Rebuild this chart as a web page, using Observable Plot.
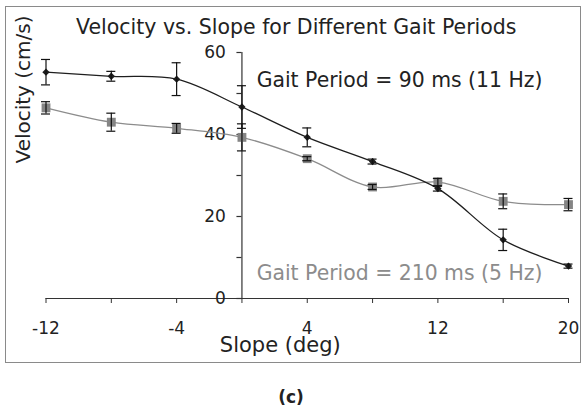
<!DOCTYPE html>
<html><head><meta charset="utf-8">
<script src="https://cdn.jsdelivr.net/npm/d3@7"></script>
<script src="https://cdn.jsdelivr.net/npm/@observablehq/plot@0.6"></script>
<style>
html,body{margin:0;padding:0;background:#fff;}
#wrap{position:relative;width:582px;height:408px;overflow:hidden;font-family:"DejaVu Sans",sans-serif;color:#222;}
#box{position:absolute;left:5px;top:6px;width:576px;height:357px;border:1.5px solid #8a8a8a;box-sizing:border-box;}
#chart{position:absolute;left:0;top:0;}
#cap{position:absolute;left:271px;width:40px;top:387px;text-align:center;font-weight:bold;font-size:17px;line-height:20px;}
</style></head>
<body><div id="wrap"><div id="box"></div><div id="chart"></div><div id="cap">(c)</div></div>
<script>
// ---- data ----
const slopes = [-12, -8, -4, 0, 4, 8, 12, 16, 20];
const v90    = [55.2, 54.2, 53.5, 46.7, 39.3, 33.4, 26.8, 14.3, 7.9];
const err90  = [3.1, 1.2, 4.0, 5.2, 2.3, 0.6, 0.6, 2.6, 0.5];
const v210   = [46.5, 43.0, 41.5, 39.3, 34.1, 27.2, 28.4, 23.7, 22.9];
const err210 = [1.5, 2.2, 1.2, 3.3, 0.5, 0.6, 0.9, 1.8, 1.5];
const xTicks = [-12, -8, -4, 0, 4, 8, 12, 16, 20];
const xTickLabels = [-12, -4, 4, 12, 20];
const yTicks = [0, 10, 20, 30, 40, 50, 60];
const yTickLabels = [0, 20, 40, 60];
const titleText = "Velocity vs. Slope for Different Gait Periods";
const xLabel = "Slope (deg)";
const yLabel = "Velocity (cm/s)";
const label90 = "Gait Period = 90 ms (11 Hz)";
const label210 = "Gait Period = 210 ms (5 Hz)";
const label90Pos = {x: 0.9, y: 51.5};
const label210Pos = {x: 0.9, y: 4.6};

const d90 = slopes.map((s, i) => ({slope: s, v: v90[i], e: err90[i]}));
const d210 = slopes.map((s, i) => ({slope: s, v: v210[i], e: err210[i]}));
const all = d90.concat(d210);

const font = '"DejaVu Sans", sans-serif';
const plot = Plot.plot({
  width: 582, height: 363,
  marginLeft: 45.5, marginRight: 14, marginTop: 52, marginBottom: 65,
  style: {fontFamily: font, fontSize: "17px", color: "#222", background: "transparent", overflow: "visible"},
  x: {domain: [-12, 20], label: null},
  y: {domain: [0, 60], axis: null, label: null},
  marks: [
    Plot.ruleY([0], {stroke: "#333", strokeWidth: 1.2}),
    Plot.ruleX([0], {stroke: "#333", strokeWidth: 1.2}),
    Plot.axisX({ticks: xTicks, tickSize: 5, tickPadding: 18, label: null,
      tickFormat: d => xTickLabels.includes(d) ? String(d) : "", stroke: "#333", fill: "#222"}),
    Plot.ruleY(yTicks, {x1: 0, x2: 0, y: d => d, insetLeft: -5, stroke: "#333", strokeWidth: 1.2}),
    Plot.text(yTickLabels, {x: 0, y: d => d, text: d => String(d), textAnchor: "end", dx: -16, fill: "#222", fontSize: 17}),
    Plot.line(d210, {x: "slope", y: "v", curve: "catmull-rom", stroke: "#8c8c8c", strokeWidth: 1.3}),
    Plot.line(d90, {x: "slope", y: "v", curve: "catmull-rom", stroke: "#1e1e1e", strokeWidth: 1.3}),
    Plot.dot(d210, {x: "slope", y: "v", symbol: "square", r: 5, fill: "#858585", stroke: "none"}),
    Plot.dot(d90, {x: "slope", y: "v", symbol: "diamond2", r: 3.3, fill: "#1e1e1e", stroke: "none"}),
    Plot.ruleX(all, {x: "slope", y1: d => d.v - d.e, y2: d => d.v + d.e, stroke: "#111", strokeWidth: 1.2}),
    Plot.ruleY(all, {x1: "slope", x2: "slope", y: d => d.v + d.e, insetLeft: -4.5, insetRight: -4.5, stroke: "#111", strokeWidth: 1.2}),
    Plot.ruleY(all, {x1: "slope", x2: "slope", y: d => d.v - d.e, insetLeft: -4.5, insetRight: -4.5, stroke: "#111", strokeWidth: 1.2}),
    Plot.text([label90], {x: () => label90Pos.x, y: () => label90Pos.y, text: d => d, textAnchor: "start", lineAnchor: "bottom", fontSize: 20.4, fill: "#222"}),
    Plot.text([label210], {x: () => label210Pos.x, y: () => label210Pos.y, text: d => d, textAnchor: "start", lineAnchor: "bottom", fontSize: 20.4, fill: "#8c8c8c"}),
    Plot.text([titleText], {frameAnchor: "top", text: d => d, dx: -11, dy: -19, lineAnchor: "bottom", fontSize: 20.5, fill: "#222"}),
    Plot.text([xLabel], {frameAnchor: "bottom", text: d => d, dx: -27, dy: 53, lineAnchor: "bottom", fontSize: 21, fill: "#222"}),
    Plot.text([yLabel], {frameAnchor: "left", text: d => d, rotate: -90, dx: -16, dy: -12, lineAnchor: "bottom", fontSize: 20, fill: "#222"})
  ]
});
document.getElementById("chart").appendChild(plot);
</script>
</body></html>
